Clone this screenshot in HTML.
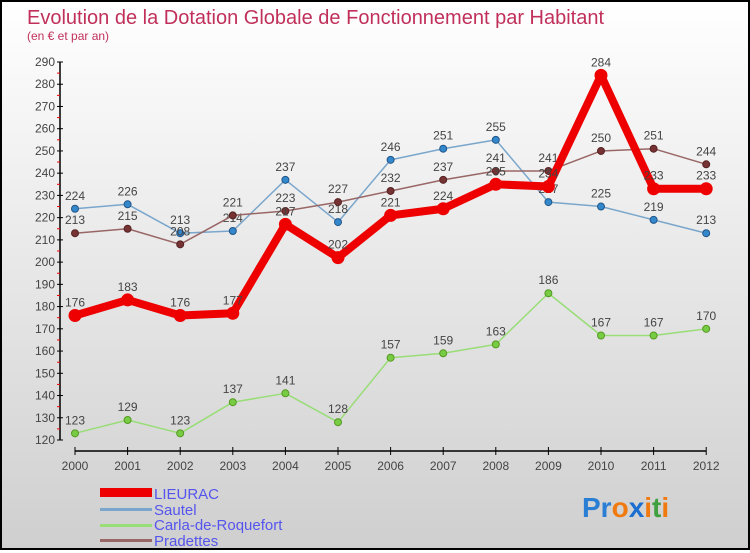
<!DOCTYPE html>
<html><head><meta charset="utf-8"><style>
body{margin:0;width:750px;height:550px;overflow:hidden;font-family:"Liberation Sans",sans-serif}
#wrap{position:absolute;left:0;top:0;width:746px;height:546px;border:2px solid #000;background:linear-gradient(#fff,#cfcfcf)}
</style></head><body>
<div id="wrap">
<svg id="chart" width="746" height="546" xmlns="http://www.w3.org/2000/svg">
<text x="25" y="22" font-size="20" fill="#c0305a">Evolution de la Dotation Globale de Fonctionnement par Habitant</text>
<text x="25" y="38" font-size="12" fill="#c0305a">(en € et par an)</text>
<g id="axes"></g><g id="series"></g>
<g>
<rect x="98" y="486" width="52" height="9" fill="#e00"/>
<text x="152" y="497" font-size="15" fill="#5555ee">LIEURAC</text>
<rect x="98" y="506" width="52" height="3" fill="#7aa6cc"/>
<text x="152" y="513" font-size="15" fill="#5555ee">Sautel</text>
<rect x="98" y="522" width="52" height="3" fill="#99dd77"/>
<text x="152" y="528" font-size="15" fill="#5555ee">Carla-de-Roquefort</text>
<rect x="98" y="537" width="52" height="3" fill="#996666"/>
<text x="152" y="544" font-size="15" fill="#5555ee">Pradettes</text>
</g>
<text x="580" y="515" font-size="28" font-weight="bold"><tspan fill="#2a7fd4">Pr</tspan><tspan fill="#f07a10">o</tspan><tspan fill="#1a6fd0">x</tspan><tspan fill="#f07a10">i</tspan><tspan fill="#40a040">t</tspan><tspan fill="#f07a10">i</tspan></text>
</svg></div>
<script>
const years=[2000,2001,2002,2003,2004,2005,2006,2007,2008,2009,2010,2011,2012];
const lieurac=[176,183,176,177,217,202,221,224,235,234,284,233,233];
const sautel=[224,226,213,214,237,218,246,251,255,227,225,219,213];
const carla=[123,129,123,137,141,128,157,159,163,186,167,167,170];
const pradettes=[213,215,208,221,223,227,232,237,241,241,250,251,244];
const yTicks=[120,130,140,150,160,170,180,190,200,210,220,230,240,250,260,270,280,290];
const NS="http://www.w3.org/2000/svg";
const X=i=>73+i*52.6;
const Y=v=>438-(v-120)*(378/170);
function mk(t,a,p){const e=document.createElementNS(NS,t);for(const k in a)e.setAttribute(k,a[k]);p.appendChild(e);return e;}
const ax=document.getElementById('axes');
let l=mk('line',{x1:58,y1:Y(290),x2:58,y2:Y(120),stroke:'#000','stroke-width':1.5},ax);


yTicks.forEach((v,k)=>{
 let t=mk('line',{x1:55,x2:61,y1:Y(v),y2:Y(v),stroke:'#000'},ax);
 
 
 if(k<yTicks.length-1){
 let r=mk('line',{x1:55,x2:58,y1:Y(v+5),y2:Y(v+5),stroke:'#e00'},ax);
 
 
 }
 let s=mk('text',{x:53,y:Y(v)+4,'font-size':12,'text-anchor':'end',fill:'#444'},ax);s.textContent=v;
 
 
});
let xa=mk('line',{x1:X(0),x2:X(12),y1:449,y2:449,stroke:'#000','stroke-width':1.5},ax);


years.forEach((y,i)=>{
 let t=mk('line',{x1:X(i),x2:X(i),y1:445,y2:453,stroke:'#000'},ax);
 
 
 let s=mk('text',{x:X(i),y:468,'font-size':12,'text-anchor':'middle',fill:'#444'},ax);s.textContent=y;
 
 
});
const sg=document.getElementById('series');
function draw(data,name,color,w,r,dot,dotStroke){
 const g=mk('g',{},sg);
 
 
 const pl=mk('polyline',{points:data.map((v,i)=>X(i)+','+Y(v)).join(' '),fill:'none',stroke:color,'stroke-width':w,'stroke-linejoin':'round'},g);
 
 
 data.forEach((v,i)=>{
  const c=mk('circle',{cx:X(i),cy:Y(v),r:r,fill:dot,stroke:dotStroke,'stroke-width':1},g);
  
  
  const t=mk('text',{x:X(i),y:Y(v)-9,'font-size':12,'text-anchor':'middle',fill:'#444'},g);t.textContent=v;
  
  
 });
}
draw(carla,'carla','#99dd77',1.5,3.5,'#77cc44','#559922');
draw(sautel,'sautel','#7aa6cc',1.5,3.5,'#3388cc','#225588');
draw(pradettes,'pradettes','#996666',1.5,3.5,'#773333','#552222');
draw(lieurac,'lieurac','#ee0000',8,6,'#ee0000','#ee0000');
</script>
</body></html>
